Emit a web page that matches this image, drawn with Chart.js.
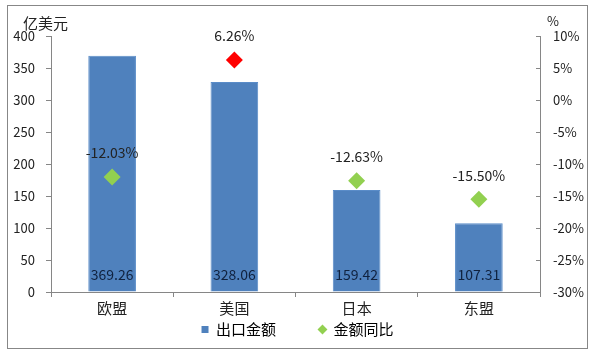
<!DOCTYPE html>
<html>
<head>
<meta charset="utf-8">
<script src="https://cdn.jsdelivr.net/npm/chart.js@4/dist/chart.umd.min.js"></script>
<style>
  html, body { margin: 0; padding: 0; background: #fff; }
  #wrap { width: 595px; height: 357px; position: relative; }
</style>
</head>
<body>
<div id="wrap"><canvas id="c" width="595" height="357"></canvas></div>
<script>
const categories = ['欧盟', '美国', '日本', '东盟'];
const exportValues = [369.26, 328.06, 159.42, 107.31];
const yoyValues = [-12.03, 6.26, -12.63, -15.50];
const yoyColors = ['#92D050', '#FF0000', '#92D050', '#92D050'];
const leftTicks = [0, 50, 100, 150, 200, 250, 300, 350, 400];
const rightTicks = [-30, -25, -20, -15, -10, -5, 0, 5, 10];
const seriesNames = ['出口金额', '金额同比'];
const leftTitle = '亿美元';
const rightTitle = '%';

const FONT = '"Noto Sans CJK SC", "Noto Sans", sans-serif';
const AXIS = '#868686';

const framePlugin = {
  id: 'frame',
  beforeDraw(chart) {
    const ctx = chart.ctx;
    ctx.save();
    ctx.fillStyle = '#fff';
    ctx.fillRect(0, 0, chart.width, chart.height);
    ctx.strokeStyle = '#878787';
    ctx.lineWidth = 1;
    ctx.strokeRect(7.5, 5.5, 580, 343);
    ctx.restore();
  },
  afterDraw(chart) {
    const ctx = chart.ctx;
    ctx.save();
    ctx.fillStyle = '#222';
    ctx.font = '15px ' + FONT;
    ctx.textBaseline = 'middle';
    ctx.textAlign = 'left';
    const yl = chart.scales.y, yr = chart.scales.y1;
    ctx.fillText(leftTitle, yl.left + 23, yl.top - 13);
    ctx.font = '13px ' + FONT;
    ctx.fillText(rightTitle, yr.left + 7, yr.top - 15);
    ctx.font = '14px ' + FONT;
    ctx.textAlign = 'center';
    ctx.fillStyle = '#10223f';
    const m0 = chart.getDatasetMeta(0);
    m0.data.forEach((el, i) => {
      ctx.fillText(exportValues[i].toFixed(2), el.x, yl.bottom - 17);
    });
    ctx.fillStyle = '#222';
    const m1 = chart.getDatasetMeta(1);
    m1.data.forEach((el, i) => {
      ctx.fillText(yoyValues[i].toFixed(2) + '%', el.x, el.y - 24);
    });
    ctx.restore();
  }
};

new Chart(document.getElementById('c'), {
  data: {
    labels: categories,
    datasets: [
      {
        type: 'bar',
        label: seriesNames[0],
        data: exportValues,
        backgroundColor: '#4F81BD',
        borderColor: '#5A8CC8',
        borderWidth: 1,
        yAxisID: 'y',
        categoryPercentage: 1.0,
        barPercentage: 0.39,
        order: 2
      },
      {
        type: 'line',
        label: seriesNames[1],
        data: yoyValues,
        showLine: false,
        pointStyle: 'rectRot',
        pointRadius: 8.5,
        pointHoverRadius: 8.5,
        pointBackgroundColor: yoyColors,
        pointBorderColor: yoyColors,
        pointBorderWidth: 0,
        yAxisID: 'y1',
        order: 1
      }
    ]
  },
  options: {
    responsive: false,
    animation: false,
    devicePixelRatio: 1,
    layout: { padding: { top: 36, left: 0, right: 0, bottom: 10 } },
    plugins: {
      tooltip: { enabled: false },
      legend: {
        position: 'bottom',
        labels: {
          font: { family: FONT, size: 15 },
          color: '#222',
          usePointStyle: true,
          boxWidth: 7,
          boxHeight: 7,
          padding: 6,
          generateLabels() {
            return [
              { text: seriesNames[0] + '           ', fillStyle: '#4F81BD', strokeStyle: '#4F81BD', lineWidth: 0, pointStyle: 'rect', datasetIndex: 0, hidden: false },
              { text: seriesNames[1], fillStyle: '#92D050', strokeStyle: '#92D050', lineWidth: 0, pointStyle: 'rectRot', datasetIndex: 1, hidden: false }
            ];
          }
        }
      }
    },
    scales: {
      x: {
        offset: true,
        grid: { display: true, drawOnChartArea: false, drawTicks: true, tickLength: 5, color: AXIS, offset: true },
        border: { display: true, color: AXIS },
        ticks: { font: { family: FONT, size: 15 }, color: '#222', padding: 2 },
        afterFit(s) { s.height = 24; }
      },
      y: {
        position: 'left',
        min: 0, max: 400,
        afterBuildTicks(s) { s.ticks = leftTicks.map(v => ({ value: v })); },
        grid: { display: true, drawOnChartArea: false, drawTicks: true, tickLength: 5, color: AXIS },
        border: { display: true, color: AXIS },
        ticks: { font: { family: FONT, size: 13 }, color: '#222', padding: 11 },
        afterFit(s) { s.width = 51; }
      },
      y1: {
        position: 'right',
        min: -30, max: 10,
        afterBuildTicks(s) { s.ticks = rightTicks.map(v => ({ value: v })); },
        grid: { display: true, drawOnChartArea: false, drawTicks: true, tickLength: -4, color: AXIS },
        border: { display: true, color: AXIS },
        ticks: { font: { family: FONT, size: 13 }, color: '#222', padding: 17, callback: v => v + '%' },
        afterFit(s) { s.width = 55; }
      }
    }
  },
  plugins: [framePlugin]
});
</script>
</body>
</html>
